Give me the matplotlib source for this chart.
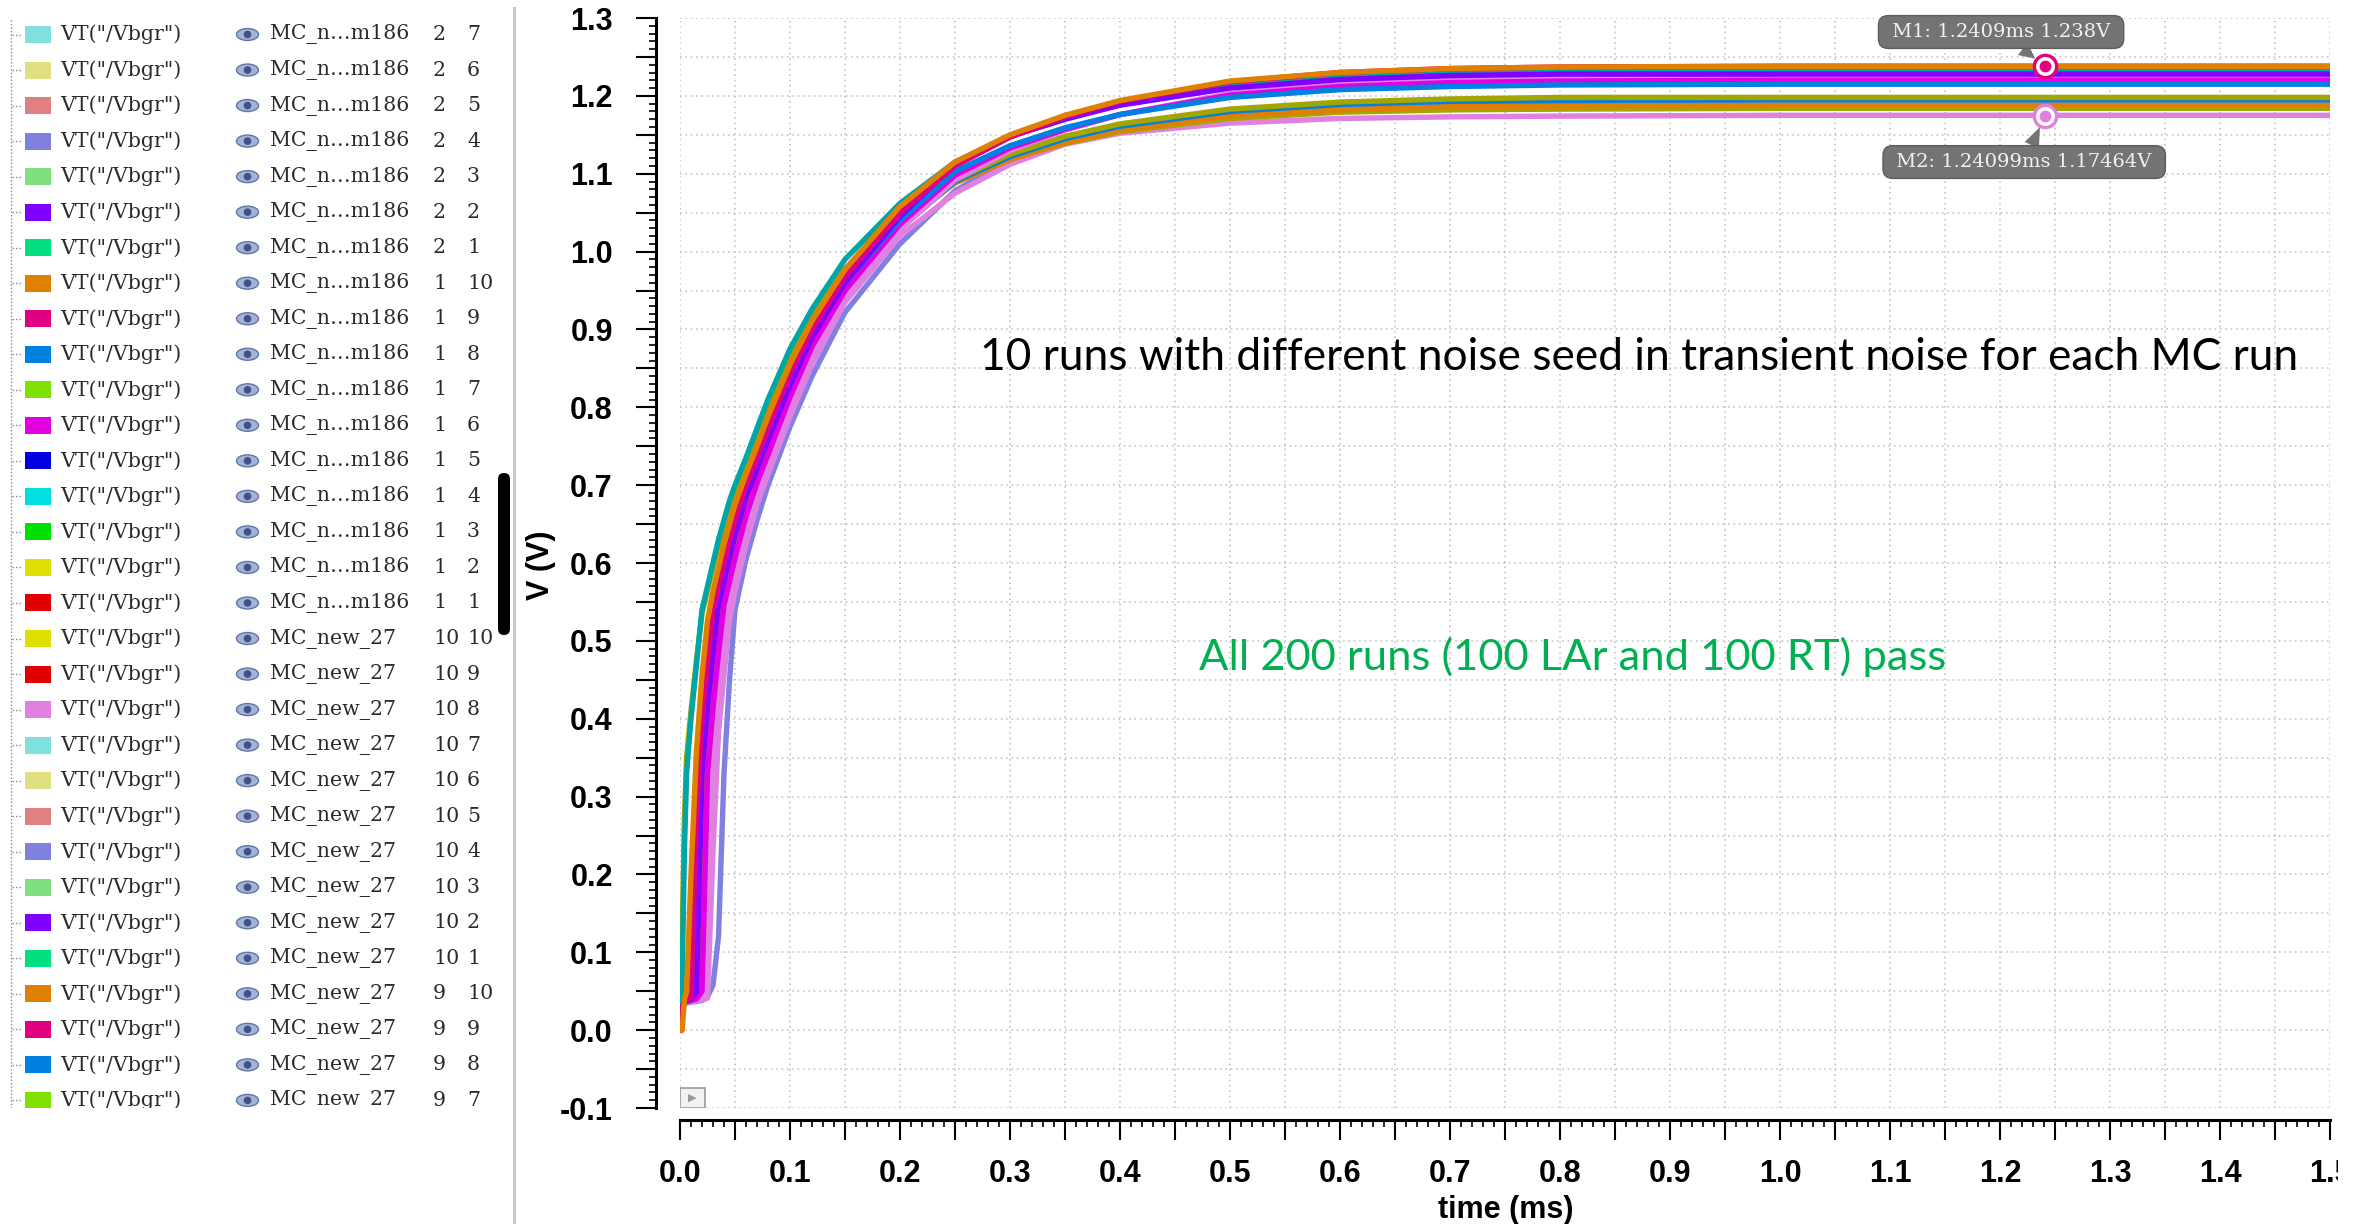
import numpy as np
import matplotlib
matplotlib.use('Agg')
import matplotlib.pyplot as plt
from matplotlib.patches import Rectangle, Ellipse, Circle, FancyBboxPatch
from matplotlib.lines import Line2D
from matplotlib.ticker import FuncFormatter

plt.rcParams['font.family'] = ['Liberation Sans', 'DejaVu Sans']
plt.rcParams['font.weight'] = 'bold'

# ---- waveform data (time in ms, V in volts) ----
t_ms = [0.0, 0.002, 0.004, 0.006, 0.01, 0.015, 0.02, 0.025, 0.03, 0.035,
        0.04, 0.045, 0.05, 0.06, 0.07, 0.08, 0.1, 0.12, 0.15, 0.2,
        0.25, 0.3, 0.35, 0.4, 0.5, 0.6, 0.7, 0.8, 1.0, 1.5]

v_peri = [0.0, 0.03, 0.034, 0.035, 0.036, 0.037, 0.038, 0.043, 0.058, 0.12,
          0.33, 0.45, 0.54, 0.605, 0.655, 0.70, 0.775, 0.84, 0.922, 1.01,
          1.078, 1.118, 1.143, 1.159, 1.175, 1.183, 1.187, 1.189, 1.19, 1.19]
v_pink_low = [0.0, 0.032, 0.035, 0.036, 0.037, 0.038, 0.039, 0.041, 0.23, 0.383,
              0.456, 0.526, 0.564, 0.624, 0.675, 0.714, 0.788, 0.855, 0.935, 1.02,
              1.075, 1.112, 1.138, 1.152, 1.165, 1.171, 1.173, 1.174, 1.175, 1.175]
v_olive2 = [0.0, 0.035, 0.04, 0.05, 0.12, 0.35, 0.43, 0.50, 0.552, 0.582,
            0.612, 0.64, 0.665, 0.707, 0.743, 0.78, 0.85, 0.906, 0.972, 1.042,
            1.089, 1.119, 1.139, 1.154, 1.171, 1.179, 1.182, 1.183, 1.184, 1.184]
v_orange2 = [0.0, 0.03, 0.035, 0.038, 0.04, 0.045, 0.23, 0.383, 0.456, 0.526,
             0.564, 0.594, 0.624, 0.675, 0.714, 0.75, 0.823, 0.885, 0.955, 1.035,
             1.088, 1.118, 1.14, 1.156, 1.174, 1.182, 1.186, 1.187, 1.188, 1.188]
v_blue2 = [0.0, 0.03, 0.035, 0.037, 0.039, 0.042, 0.05, 0.28, 0.40, 0.47,
           0.54, 0.57, 0.60, 0.655, 0.70, 0.735, 0.81, 0.875, 0.947, 1.03,
           1.09, 1.122, 1.145, 1.161, 1.18, 1.189, 1.193, 1.194, 1.195, 1.195]
v_olive1 = [0.0, 0.12, 0.27, 0.35, 0.41, 0.475, 0.535, 0.565, 0.595, 0.622,
            0.648, 0.672, 0.692, 0.728, 0.765, 0.80, 0.865, 0.915, 0.978, 1.045,
            1.092, 1.125, 1.148, 1.164, 1.183, 1.192, 1.196, 1.198, 1.198, 1.198]
v_pink1 = [0.0, 0.03, 0.035, 0.036, 0.037, 0.039, 0.042, 0.15, 0.365, 0.442,
           0.512, 0.558, 0.588, 0.645, 0.692, 0.728, 0.803, 0.868, 0.942, 1.028,
           1.092, 1.13, 1.156, 1.176, 1.203, 1.216, 1.221, 1.224, 1.225, 1.225]
v_magenta = [0.0, 0.03, 0.035, 0.037, 0.038, 0.04, 0.05, 0.33, 0.414, 0.484,
             0.546, 0.576, 0.606, 0.66, 0.703, 0.739, 0.813, 0.878, 0.95, 1.035,
             1.098, 1.133, 1.157, 1.176, 1.201, 1.212, 1.217, 1.219, 1.22, 1.22]
v_blue1 = [0.0, 0.03, 0.035, 0.038, 0.04, 0.12, 0.35, 0.435, 0.505, 0.555,
           0.585, 0.615, 0.642, 0.69, 0.726, 0.762, 0.833, 0.892, 0.96, 1.04,
           1.103, 1.136, 1.159, 1.176, 1.198, 1.208, 1.212, 1.214, 1.215, 1.215]
v_teal = [0.0, 0.07, 0.23, 0.33, 0.40, 0.47, 0.54, 0.57, 0.60, 0.63,
          0.655, 0.68, 0.70, 0.735, 0.773, 0.81, 0.875, 0.926, 0.99, 1.062,
          1.115, 1.148, 1.17, 1.19, 1.215, 1.226, 1.230, 1.232, 1.233, 1.233]
v_violet = [0.0, 0.03, 0.035, 0.037, 0.04, 0.05, 0.33, 0.414, 0.484, 0.546,
            0.576, 0.606, 0.635, 0.684, 0.721, 0.758, 0.829, 0.89, 0.96, 1.045,
            1.113, 1.148, 1.17, 1.188, 1.21, 1.221, 1.226, 1.228, 1.228, 1.228]
v_pink_deep = [0.0, 0.03, 0.035, 0.038, 0.042, 0.28, 0.40, 0.47, 0.54, 0.57,
               0.60, 0.63, 0.655, 0.70, 0.735, 0.773, 0.843, 0.90, 0.968, 1.05,
               1.110, 1.147, 1.173, 1.193, 1.218, 1.230, 1.235, 1.237, 1.238, 1.238]
v_orange1 = [0.0, 0.0, 0.04, 0.05, 0.2, 0.36, 0.456, 0.526, 0.564, 0.594,
             0.624, 0.65, 0.675, 0.714, 0.75, 0.788, 0.855, 0.911, 0.977, 1.058,
             1.115, 1.150, 1.175, 1.194, 1.219, 1.230, 1.235, 1.237, 1.238, 1.238]

waves = [(v_peri, '#8080E0'), (v_pink_low, '#E080E0'), (v_olive2, '#A5A500'),
         (v_orange2, '#E08000'), (v_blue2, '#0080E0'), (v_olive1, '#A5A500'),
         (v_pink1, '#E080E0'), (v_magenta, '#E000E0'), (v_blue1, '#0080E0'),
         (v_teal, '#00A5A5'), (v_violet, '#8000FF'), (v_pink_deep, '#E00080'),
         (v_orange1, '#E08000')]

# markers
m1_t, m1_v = 1.2409, 1.238
m2_t, m2_v = 1.24099, 1.17464

# ---- legend list on the left ----
leg_test = ['MC_n\u2026m186'] * 17 + ['MC_new_27'] * 14
leg_a = [2, 2, 2, 2, 2, 2, 2, 1, 1, 1, 1, 1, 1, 1, 1, 1, 1,
         10, 10, 10, 10, 10, 10, 10, 10, 10, 10, 9, 9, 9, 9]
leg_b = [7, 6, 5, 4, 3, 2, 1, 10, 9, 8, 7, 6, 5, 4, 3, 2, 1,
         10, 9, 8, 7, 6, 5, 4, 3, 2, 1, 10, 9, 8, 7]
leg_colors = ['#80E0E0', '#E0E080', '#E08080', '#8080E0', '#80E080', '#8000FF',
              '#00E080', '#E08000', '#E00080', '#0080E0', '#80E000', '#E000E0',
              '#0000E0', '#00E0E0', '#00E000', '#E0E000', '#E00000',
              '#E0E000', '#E00000', '#E080E0', '#80E0E0', '#E0E080', '#E08080',
              '#8080E0', '#80E080', '#8000FF', '#00E080', '#E08000', '#E00080',
              '#0080E0', '#80E000']

W, H = 2354, 1224
fig = plt.figure(figsize=(W / 100, H / 100), dpi=100)
fig.patch.set_facecolor('white')

# ---- waveform axes ----
ax = fig.add_axes([680 / W, 1 - 1108 / H, 1650 / W, 1090 / H])
for vals, col in waves:
    ax.plot(t_ms, vals, color=col, lw=3.9, solid_joinstyle='round')

ax.set_xlim(0, 1.5)
ax.set_ylim(-0.1, 1.3)
xt = np.round(np.arange(0, 1.5001, 0.05), 2)
yt = np.round(np.arange(-0.1, 1.3001, 0.05), 2)
ax.set_xticks(xt)
ax.set_yticks(yt)
ax.set_xticks(np.round(np.arange(0, 1.5001, 0.01), 2), minor=True)
ax.set_yticks(np.round(np.arange(-0.1, 1.3001, 0.01), 2), minor=True)

def lab(v, pos):
    if round(v * 20) % 2 != 0:
        return ''
    return '%.1f' % (round(v, 2) + 0.0)

ax.xaxis.set_major_formatter(FuncFormatter(lab))
ax.yaxis.set_major_formatter(FuncFormatter(lab))

ax.grid(True, which='major', color='#bcbcbc', linestyle=(0, (1, 2.5)), linewidth=1.1)
ax.set_axisbelow(True)

ax.tick_params(which='major', length=14.4, width=1.5, direction='out', labelsize=22)
ax.tick_params(which='minor', length=5, width=1.2, direction='out')
ax.tick_params(axis='x', pad=14)
ax.tick_params(axis='y', pad=17)
for loc, tk in zip(xt, ax.xaxis.get_major_ticks()):
    if round(loc * 20) % 2 != 0:
        tk.tick1line.set_markersize(9.4)
for loc, tk in zip(yt, ax.yaxis.get_major_ticks()):
    if round(loc * 20) % 2 != 0:
        tk.tick1line.set_markersize(9.4)

for s in ['top', 'right']:
    ax.spines[s].set_visible(False)
ax.spines['left'].set_position(('outward', 17))
ax.spines['bottom'].set_position(('outward', 8.5))
ax.spines['left'].set_linewidth(2.2)
ax.spines['bottom'].set_linewidth(2.2)

fig.text(1506 / W, 1 - 1210 / H, 'time (ms)', ha='center', va='center', fontsize=22)
fig.text(541 / W, 1 - 565 / H, 'V (V)', ha='center', va='center', fontsize=22, rotation=90)

# markers + callouts
ax.plot([m1_t], [m1_v], 'o', ms=16, mfc='white', mec='#E00080', mew=2.4, zorder=6)
ax.plot([m1_t], [m1_v], 'o', ms=7.5, mfc='#E00080', mec='#E00080', zorder=7)
ax.plot([m2_t], [m2_v], 'o', ms=16, mfc='white', mec='#E080E0', mew=2.4, zorder=6)
ax.plot([m2_t], [m2_v], 'o', ms=7.5, mfc='#E080E0', mec='#E080E0', zorder=7)

box = dict(boxstyle='round,pad=0.38,rounding_size=0.5', fc='#747474', ec='#5c5c5c', lw=1)
ax.annotate(' M1: 1.2409ms 1.238V ', xy=(m1_t, m1_v), xytext=(1.201, 1.282),
            ha='center', va='center', color='#f2f2f2', fontsize=14,
            fontfamily='DejaVu Serif', fontweight='normal', bbox=box, zorder=8,
            arrowprops=dict(arrowstyle='wedge,tail_width=0.8', fc='#747474', ec='none',
                            shrinkA=0, shrinkB=9))
ax.annotate(' M2: 1.24099ms 1.17464V ', xy=(m2_t, m2_v), xytext=(1.222, 1.115),
            ha='center', va='center', color='#f2f2f2', fontsize=14,
            fontfamily='DejaVu Serif', fontweight='normal', bbox=box, zorder=8,
            arrowprops=dict(arrowstyle='wedge,tail_width=0.8', fc='#747474', ec='none',
                            shrinkA=0, shrinkB=9))

# small play icon in the corner
ax.add_patch(Rectangle((0.0, 0.0), 25 / 1650, 20 / 1090, transform=ax.transAxes,
                       fc='#f2f2f2', ec='#9a9a9a', lw=1.2, zorder=5))
ax.text(12.5 / 1650, 10 / 1090, '\u25b6', transform=ax.transAxes, ha='center', va='center',
        fontsize=8, color='#9a9a9a', fontfamily='DejaVu Sans', fontweight='normal', zorder=6)

# slide annotations
t1 = fig.text(980 / W, 1 - 357 / H,
              '10 runs with different noise seed in transient noise for each MC run',
              ha='left', va='center', fontsize=30, fontfamily='Lato', fontweight='normal',
              color='black')
t2 = fig.text(1573 / W, 1 - 657 / H, 'All 200 runs (100 LAr and 100 RT) pass',
              ha='center', va='center', fontsize=30, fontfamily='Lato', fontweight='normal',
              color='#00B050')
fig.canvas.draw()
r = fig.canvas.get_renderer()
t1.set_fontsize(30 * 1314 / t1.get_window_extent(r).width)
t2.set_fontsize(30 * 746 / t2.get_window_extent(r).width)

# the window edge cuts off the last x tick label in the screenshot
fig.add_artist(Rectangle((2338 / W, 0), 20 / W, 1 - 1145 / H, transform=fig.transFigure,
                         fc='white', ec='none', zorder=20))

# ---- left legend panel (pixel coordinates) ----
lax = fig.add_axes([0, 1 - 1108 / H, 513 / W, 1108 / H])
lax.set_xlim(0, 513)
lax.set_ylim(1108, 0)
lax.axis('off')

lax.plot([11, 11], [20, 1108], ls=(0, (1, 1.5)), color='#8a8a8a', lw=1)
row_h = 35.53
for i in range(len(leg_test)):
    yc = 34.5 + i * row_h
    lax.plot([12, 21], [yc, yc], ls=(0, (1, 1.5)), color='#8a8a8a', lw=1)
    lax.add_patch(Rectangle((25, yc - 8.5), 26, 17, fc=leg_colors[i], ec='none'))
    kw = dict(va='center', ha='left', fontsize=14.8, fontfamily='DejaVu Serif',
              fontweight='normal', color='#2b2b2b', clip_on=True)
    lax.text(60, yc, 'VT("/Vbgr")', **kw)
    lax.add_patch(Ellipse((247.5, yc), 22, 12, fc='#a3b3d6', ec='#6276a6', lw=1))
    lax.add_patch(Circle((247.5, yc), 3.8, fc='#3d5287', ec='none'))
    lax.text(270, yc, leg_test[i], **kw)
    lax.text(433, yc, str(leg_a[i]), **kw)
    lax.text(467, yc, str(leg_b[i]), **kw)

lax.add_patch(FancyBboxPatch((498, 473), 12, 162, boxstyle='round,pad=0,rounding_size=6',
                             fc='black', ec='none'))
fig.add_artist(Line2D([514 / W, 514 / W], [0, 1 - 8 / H], transform=fig.transFigure,
                      color='#c8c8c8', lw=2.2))

fig.savefig('out.png', dpi=100)
